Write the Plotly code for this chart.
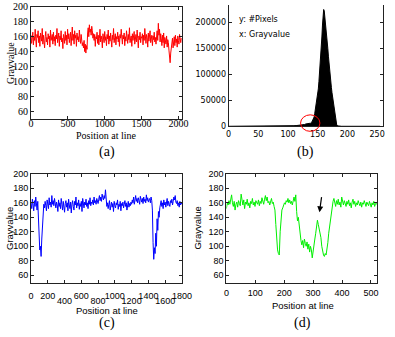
import numpy as np
import plotly.graph_objects as go

# ---------------- data ----------------
# (a) gray values along a line (sampled every 8 px)
a_step = 8
a_vals = [162,151,158,166,149,160,155,170,157,146,163,159,168,152,161,147,165,158,154,171,150,162,156,145,160,167,153,159,149,164,157,161,146,169,155,158,163,150,166,154,160,148,162,157,171,152,159,165,147,161,156,168,153,158,144,163,160,151,167,155,162,149,170,157,164,152,159,166,148,161,173,155,163,150,168,158,162,147,165,156,160,153,169,158,151,163,157,148,
          152,145,155,140,150,138,148,143,
          165,172,160,176,166,170,162,174,168,158,164,
          155,163,147,160,157,166,151,162,149,158,170,153,161,156,145,164,159,152,167,155,160,148,163,157,169,150,161,154,165,158,146,162,156,171,152,159,164,149,160,157,166,153,161,147,163,158,170,155,150,162,157,165,148,160,154,168,159,151,163,156,172,152,158,161,147,164,155,160,167,150,157,163,153,169,158,145,161,156,166,152,160,158,164,149,162,155,171,157,151,163,159,146,165,154,160,168,152,158,162,148,161,156,166,153,159,150,
          160,168,155,178,162,170,153,164,
          157,148,162,152,165,145,159,155,150,161,146,156,152,
          142,135,125,138,148,
          150,158,145,155,160,148,162,152,157,146,161,155,150,163,156,152,158]

# (b) histogram of gray values
b_gray = [0,70,80,90,100,110,115,120,125,128,130,133,136,138,140,142,144,145,146,147,148,149,150,151,152,153,154,155,156,157,158,159,160,161,162,163,164,165,166,167,168,169,170,171,172,173,174,175,176,177,178,179,180,181,182,184,187,190,255]
b_count = [0,0,300,600,800,1200,1500,2000,2800,3500,4500,5000,5500,6000,8000,12000,18000,25000,32000,38000,44000,50000,60000,72000,86000,100000,118000,135000,150000,172000,195000,213000,225000,222000,212000,200000,185000,170000,160000,150000,135000,120000,108000,100000,88000,75000,65000,56000,50000,40000,30000,20000,12000,6000,2500,800,200,0,0]

# (c) gray values along a line (sampled every 8 px)
c_step = 8
c_vals = [160,152,165,157,149,163,155,168,158,150,162,
          140,112,95,100,86,110,135,
          150,158,153,162,156,149,164,159,152,167,157,161,154,170,158,163,156,166,160,
          153,161,157,148,164,155,160,152,166,158,150,162,156,147,159,163,154,160,149,165,157,152,161,146,158,163,155,150,162,157,168,153,160,156,164,151,159,155,162,148,166,158,153,161,157,165,155,160,152,163,158,167,156,161,159,164,157,168,160,163,158,166,162,159,
          165,170,163,168,162,172,167,164,170,166,178,168,
          155,160,152,158,163,150,157,161,154,159,148,162,156,153,160,157,164,151,158,155,162,149,159,156,161,153,158,163,155,160,150,157,162,154,159,156,161,158,
          164,160,168,158,165,170,162,166,160,167,163,158,169,164,161,166,159,168,162,165,160,171,163,167,161,164,166,160,168,163,
          150,105,82,98,90,118,100,138,122,148,140,153,
          158,163,155,160,152,164,157,161,154,159,166,156,162,158,155,163,160,165,157,162,168,164,170,161,159,163,156,160,154,162,157,160,158]

# (d) gray values along a line (sampled every 3 px)
d_step = 3
d_vals = [152,160,157,163,158,166,171,160,155,162,150,158,161,154,163,159,156,172,160,157,164,152,161,158,165,156,160,153,162,159,166,157,161,155,163,160,158,164,156,162,159,167,161,158,165,170,163,168,160,162,157,164,166,159,161,155,
          150,130,110,95,90,88,120,145,150,153,
          156,160,158,163,161,166,160,164,159,162,157,165,168,162,171,
          148,135,140,126,115,108,
          102,108,98,110,104,100,106,96,103,92,100,95,84,96,
          98,110,118,
          128,136,130,124,
          120,112,100,
          92,88,86,90,88,95,
          105,118,128,140,150,158,162,166,
          160,155,163,158,165,157,161,154,168,160,157,163,159,155,162,158,164,156,160,153,161,165,158,162,155,160,157,163,159,156,161,154,160,158,163,157,155,161,159,156,162,158,154,160,157,162,155,159,161,157]

gray_ticks = [60, 80, 100, 120, 140, 160, 180, 200]
a_xticks = [0, 500, 1000, 1500, 2000]
b_xticks = [0, 50, 100, 150, 200, 250]
b_yticks = [0, 50000, 100000, 150000, 200000]
c_xticks_upper = [0, 200, 600, 1000, 1400, 1800]
c_xticks_lower = [400, 800, 1200, 1600]
d_xticks = [0, 100, 200, 300, 400, 500]

a_x = np.arange(len(a_vals)) * a_step
c_x = np.arange(len(c_vals)) * c_step
d_x = np.arange(len(d_vals)) * d_step

W, H = 395, 337
def px(x): return x / W
def py(y): return 1 - y / H

SERIF = "Liberation Serif"
SANS = "Liberation Sans"
LINE = "#222222"

fig = go.Figure()
fig.add_trace(go.Scatter(x=a_x, y=a_vals, mode="lines", line=dict(color="#ff0000", width=1), xaxis="x", yaxis="y"))
fig.add_trace(go.Scatter(x=b_gray, y=b_count, mode="lines", fill="tozeroy", fillcolor="black", line=dict(color="black", width=1), xaxis="x2", yaxis="y2"))
fig.add_trace(go.Scatter(x=c_x, y=c_vals, mode="lines", line=dict(color="#0000ff", width=1), xaxis="x3", yaxis="y3"))
fig.add_trace(go.Scatter(x=d_x, y=d_vals, mode="lines", line=dict(color="#00ee00", width=1), xaxis="x4", yaxis="y4"))
# invisible helper traces so the overlay axes (right ticks of (b), lower tick row of (c)) are drawn
fig.add_trace(go.Scatter(x=[None], y=[None], mode="lines", xaxis="x2", yaxis="y6", hoverinfo="skip"))
fig.add_trace(go.Scatter(x=[None], y=[None], mode="lines", xaxis="x5", yaxis="y3", hoverinfo="skip"))

common = dict(showline=True, linecolor=LINE, linewidth=1, mirror="ticks", ticks="inside", ticklen=3,
              tickcolor=LINE, showgrid=False, zeroline=False)

layout = dict(
    width=W, height=H, margin=dict(l=0, r=0, t=0, b=0),
    paper_bgcolor="white", plot_bgcolor="white", showlegend=False,
    # (a)
    xaxis=dict(domain=[px(29), px(185)], range=[0, 2048], anchor="y", tickvals=a_xticks,
               tickfont=dict(family=SERIF, size=10, color="black"), ticklabelstandoff=-5, **common),
    yaxis=dict(domain=[py(117), py(2)], range=[50, 200], anchor="x", tickvals=gray_ticks,
               tickfont=dict(family=SERIF, size=10, color="black"), **common),
    # (b)
    xaxis2=dict(domain=[px(233.3), px(393)], range=[0, 260], anchor="y2", tickvals=b_xticks,
                tickfont=dict(family="DejaVu Sans", size=8, color="black"),
                showline=True, linecolor=LINE, ticks="", showgrid=False, zeroline=False),
    yaxis2=dict(domain=[py(125), 1.0], range=[0, 233600], anchor="x2", tickvals=b_yticks,
                tickformat="d",
                tickfont=dict(family="DejaVu Sans", size=8, color="black"),
                showline=True, linecolor=LINE, ticks="inside", ticklen=3, tickcolor=LINE,
                showgrid=False, zeroline=False),
    yaxis6=dict(overlaying="y2", anchor="x2", side="right", matches="y2", tickvals=b_yticks,
                showticklabels=False, showline=True, linecolor=LINE, ticks="inside", ticklen=3,
                tickcolor=LINE, showgrid=False, zeroline=False),
    # (c)
    xaxis3=dict(domain=[px(29), px(185)], range=[0, 1800], anchor="y3",
                tickvals=c_xticks_upper + c_xticks_lower,
                ticktext=[str(v) for v in c_xticks_upper] + ["" for v in c_xticks_lower],
                tickfont=dict(family=SANS, size=9, color="black"), ticklabelstandoff=5, **common),
    xaxis5=dict(overlaying="x3", anchor="y3", side="bottom", matches="x3", tickvals=c_xticks_lower,
                tickfont=dict(family=SANS, size=9, color="black"), ticks="", showline=False,
                showgrid=False, zeroline=False, ticklabelstandoff=11),
    yaxis3=dict(domain=[py(286), py(174)], range=[50, 200], anchor="x3", tickvals=gray_ticks,
                tickfont=dict(family=SANS, size=9, color="black"), **common),
    # (d)
    xaxis4=dict(domain=[px(231), px(387)], range=[0, 522], anchor="y4", tickvals=d_xticks,
                tickfont=dict(family=SANS, size=9, color="black"), ticklabelstandoff=2, **common),
    yaxis4=dict(domain=[py(286), py(174)], range=[50, 200], anchor="x4", tickvals=gray_ticks,
                tickfont=dict(family=SANS, size=9, color="black"), **common),
)
fig.update_layout(**layout)

def txt(x, y, s, family, size, angle=0, xanchor="center"):
    fig.add_annotation(x=px(x), y=py(y), xref="paper", yref="paper", text=s, showarrow=False,
                       textangle=angle, xanchor=xanchor, yanchor="middle",
                       font=dict(family=family, size=size, color="black"))

# (a) texts
txt(7, 60, "Grayvalue", SERIF, 10, -90)
txt(107, 135, "Position at line", SERIF, 10)
txt(108, 152, "(a)", SERIF, 14)
# (b) texts
txt(242, 15, "y: #Pixels", "DejaVu Sans", 8, xanchor="left")
txt(242, 30, "x: Grayvalue", "DejaVu Sans", 8, xanchor="left")
txt(313, 152, "(b)", SERIF, 14)
# (c) texts
txt(6, 230, "Grayvalue", SANS, 9.5, -90)
txt(108, 315, "Position at line", SANS, 9.5)
txt(108, 328, "(c)", SERIF, 14)
# (d) texts
txt(201, 230, "Grayvalue", SANS, 9.5, -90)
txt(310, 310, "Position at line", SANS, 9.5)
txt(310, 328, "(d)", SERIF, 14)

# red ellipse marking the histogram foot
fig.add_shape(type="circle", xref="paper", yref="paper",
              x0=px(307.7), x1=px(327.7), y0=py(130.2), y1=py(113.2),
              line=dict(color="red", width=1))

# arrow in (d)
fig.add_annotation(x=322, y=147, ax=330, ay=170, xref="x4", yref="y4", axref="x4", ayref="y4",
                   showarrow=True, arrowhead=2, arrowsize=1, arrowwidth=1.2, arrowcolor="black", text="")

fig.write_html("out.html", config={"displayModeBar": False},
               post_script="document.body.style.margin='0';document.body.style.overflow='hidden';")
